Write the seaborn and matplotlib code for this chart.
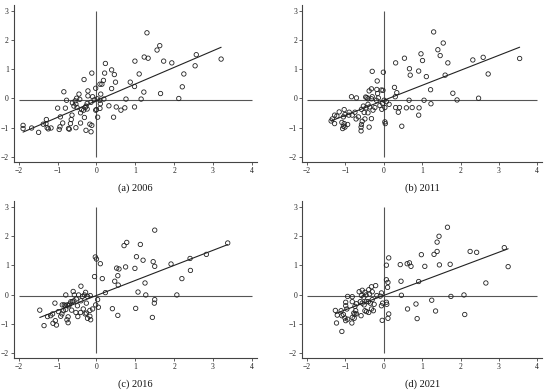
import numpy as np
import pandas as pd
import seaborn as sns
import matplotlib
matplotlib.use('Agg')
import matplotlib.pyplot as plt

# Moran scatter values (x: standardised value, y: spatial lag)
x_2006 = [1.30, 1.63, 1.56, 1.23, 1.33, 1.73, 1.94, 0.99, 2.57, 2.54, 3.21, 2.25, 2.21, 2.12,
          1.65, 1.22, 1.15, 1.10, 0.98, 0.87, 0.98, 0.76, 0.73, 0.63, 0.51, 0.44, 0.32, 0.39,
          0.46, 0.49, 0.39, 0.23, 0.21, 0.18, 0.09, 0.14, 0.11, 0.19, 0.09, 0.10, 0.09, -0.02,
          0.02, 0.00, -0.02, 0.03, -0.12, -0.32, -0.22, -0.22, -0.10, -0.06, -0.14, -0.24,
          -0.27, -0.29, -0.24, -0.33, -0.31, -0.17, -0.12, -0.27, -0.14, -0.45, -0.43, -0.51,
          -0.55, -0.53, -0.58, -0.62, -0.50, -0.38, -0.41, -0.63, -0.65, -0.67, -0.41, -0.53,
          -0.72, -0.70, -0.84, -0.77, -0.80, -1.00, -0.93, -0.87, -0.94, -0.96, -1.17, -1.29,
          -1.30, -1.37, -1.24, -1.27, -1.49, -1.67, -1.89, -1.89]
y_2006 = [2.25, 1.81, 1.66, 1.42, 1.38, 1.28, 1.22, 1.28, 1.50, 1.12, 1.35, 0.84, 0.40, 0.00,
          0.17, 0.22, -0.02, 0.84, 0.41, 0.56, -0.29, -0.02, -0.32, -0.40, -0.29, -0.64, -0.25,
          0.98, 0.82, 0.56, 0.34, 1.20, 0.87, 0.62, 0.49, 0.49, 0.15, -0.02, -0.06, -0.18,
          -0.34, 0.35, -0.01, -0.38, -0.40, -0.64, 0.87, 0.65, 0.26, 0.09, 0.06, -0.05, -0.13,
          -0.17, -0.26, -0.31, -0.36, -0.40, -0.65, -0.88, -0.92, -1.09, -1.14, 0.15, -0.03,
          0.01, -0.08, -0.19, -0.26, -0.15, -0.31, -0.38, -0.49, -0.57, -0.72, -0.86, -0.84,
          -1.00, -1.03, -1.05, 0.23, -0.06, -0.33, -0.33, -0.63, -0.84, -0.97, -1.06, -1.01,
          -0.72, -0.86, -0.88, -1.04, -1.00, -1.16, -1.01, -0.92, -1.03]

x_2011 = [1.30, 1.55, 1.41, 1.47, 0.97, 1.01, 0.54, 0.31, 1.67, 2.32, 2.59, 3.54, 2.72, 1.60,
          1.11, 0.91, 0.67, 0.69, 1.22, 1.80, 1.91, 2.47, 1.05, 1.23, 0.66, 0.92, 0.74, 0.59,
          0.41, 0.31, 0.38, 0.91, 0.47, 0.28, 0.34, 0.30, 0.14, 0.07, 0.01, 0.03, 0.03, 0.04,
          -0.01, -0.02, -0.06, -0.03, -0.05, -0.30, -0.17, -0.32, -0.18, -0.38, -0.16, -0.30,
          -0.32, -0.41, -0.44, -0.47, -0.14, -0.19, -0.10, -0.23, -0.28, -0.37, -0.41, -0.46,
          -0.53, -0.58, -0.51, -0.41, -0.32, -0.49, -0.38, -0.59, -0.59, -0.58, -0.56, -0.66,
          -0.72, -0.75, -0.82, -0.71, -0.84, -0.90, -0.91, -1.03, -1.05, -1.01, -1.09, -1.03,
          -1.05, -1.07, -1.01, -0.94, -1.16, -1.22, -1.28, -1.28, -1.37, -1.34]
y_2011 = [2.28, 1.90, 1.67, 1.47, 1.53, 1.30, 1.38, 1.22, 1.22, 1.32, 1.41, 1.37, 0.84, 0.80,
          0.75, 0.94, 1.02, 0.80, 0.30, 0.18, -0.05, 0.01, -0.06, -0.18, -0.06, -0.32, -0.31,
          -0.32, -0.31, -0.31, -0.47, -0.57, -0.95, 0.38, 0.20, 0.06, -0.20, -0.11, -0.06,
          -0.31, -0.80, -0.86, 0.90, 0.28, 0.29, -0.17, -0.37, 0.93, 0.60, 0.33, 0.31, 0.26,
          0.17, 0.06, -0.01, -0.01, 0.03, 0.05, 0.02, -0.06, -0.24, -0.31, -0.40, -0.29, -0.20,
          -0.32, -0.26, -0.37, -0.48, -0.49, -0.69, -0.70, -0.98, -0.98, -1.11, -0.89, -0.78,
          -0.63, -0.70, -0.47, -0.57, 0.02, 0.06, -0.47, -0.57, -0.38, -0.63, -0.55, -0.82,
          -0.86, -0.95, -1.03, -0.98, -0.89, -0.46, -0.60, -0.57, -0.86, -0.77, -0.70]

x_2016 = [1.50, 0.78, 0.71, 1.13, 3.38, 2.83, 2.41, 1.92, 1.46, 1.50, 1.03, 1.20, 2.42, 2.20,
          0.99, 0.75, 0.52, 0.58, 0.55, 0.47, 0.56, 1.25, 1.07, 1.27, 2.07, 1.50, 1.49, 1.01,
          1.44, 0.55, 0.41, 0.23, 0.15, 0.10, -0.03, 0.00, -0.05, 0.03, -0.02, 0.05, -0.10,
          -0.16, -0.28, -0.23, -0.31, -0.40, -0.36, -0.26, -0.40, -0.34, -0.41, -0.17, -0.26,
          -0.17, -0.15, -0.23, -0.29, -0.46, -0.57, -0.60, -0.52, -0.58, -0.49, -0.53, -0.48,
          -0.62, -0.69, -0.66, -0.71, -0.79, -0.75, -0.80, -0.83, -0.88, -0.85, -0.79, -0.73,
          -0.76, -0.73, -0.89, -0.92, -1.07, -1.06, -1.03, -1.12, -1.13, -1.18, -1.26, -1.35,
          -1.46, -0.98, -0.64]
y_2016 = [2.21, 1.79, 1.68, 1.72, 1.77, 1.38, 1.24, 1.05, 1.13, 0.97, 1.30, 1.18, 0.83, 0.55,
          0.90, 0.95, 0.91, 0.88, 0.65, 0.46, 0.33, 0.40, 0.09, -0.01, -0.01, -0.17, -0.29,
          -0.47, -0.78, -0.71, -0.48, 0.07, 0.55, 1.06, 1.29, 1.22, 0.62, -0.17, -0.35, -0.43,
          -0.49, -0.03, 0.08, -0.06, -0.01, 0.29, -0.06, -0.29, -0.21, -0.49, -0.61, -0.54,
          -0.63, -0.74, -0.86, -0.81, -0.66, -0.01, -0.01, 0.11, -0.15, -0.21, -0.38, -0.61,
          -0.75, -0.24, -0.32, -0.24, -0.38, -0.01, -0.35, -0.38, -0.35, -0.35, -0.55, -0.51,
          -0.76, -0.86, -0.96, -0.66, -0.74, -0.29, -0.89, -1.04, -0.98, -0.66, -0.72, -0.75,
          -1.06, -0.53, -0.58, -0.53]

x_2021 = [1.66, 1.44, 1.39, 1.39, 1.31, 0.98, 2.25, 2.42, 3.14, 3.24, 0.67, 0.61, 0.71, 0.43,
          1.07, 1.45, 1.73, 0.13, 0.07, 0.07, 0.11, 0.10, 0.45, 0.91, 2.66, 0.46, 1.75, 2.09,
          1.25, 0.84, 0.62, 1.35, 0.87, 2.11, 0.13, 0.11, 0.08, 0.07, -0.06, -0.09, -0.06,
          -0.03, -0.04, -0.21, -0.32, -0.30, -0.39, -0.37, -0.18, -0.25, -0.30, -0.35, -0.40,
          -0.32, -0.27, -0.39, -0.49, -0.56, -0.46, -0.58, -0.52, -0.45, -0.56, -0.61, -0.64,
          -0.51, -0.49, -0.59, -0.45, -0.71, -0.75, -0.73, -0.78, -0.82, -0.82, -0.82, -0.83,
          -0.77, -0.75, -0.71, -0.94, -0.99, -0.99, -0.96, -0.94, -0.99, -1.01, -1.05, -1.11,
          -1.09, -1.21, -1.09, -1.23, -1.26]
y_2021 = [2.31, 2.00, 1.80, 1.48, 1.38, 1.37, 1.48, 1.45, 1.61, 0.96, 1.09, 1.06, 0.97, 1.03,
          0.97, 1.02, 1.04, 1.26, 1.01, 0.51, 0.42, 0.25, 0.46, 0.45, 0.40, -0.02, -0.06, -0.01,
          -0.19, -0.32, -0.49, -0.56, -0.82, -0.68, -0.66, -0.81, -0.33, -0.26, 0.06, -0.05,
          -0.38, -0.29, -0.88, 0.31, 0.27, 0.10, 0.17, 0.02, -0.03, -0.33, -0.17, -0.29, -0.24,
          -0.49, -0.55, -0.61, 0.08, 0.15, -0.01, -0.03, -0.09, -0.24, -0.29, -0.24, 0.10,
          -0.35, -0.55, -0.72, -0.58, -0.31, -0.40, -0.55, -0.63, -0.07, -0.24, -0.78, -0.97,
          -0.81, -0.66, -0.66, -0.06, -0.26, -0.38, -0.49, -0.84, -0.89, -0.80, -0.68, -0.55,
          -0.72, -0.70, -1.26, -0.97, -0.54]

panel_labels = ['(a) 2006', '(b) 2011', '(c) 2016', '(d) 2021']
mean_lag = [-0.06, -0.05, -0.04, -0.04]
x_ticks = [-2, -1, 0, 1, 2, 3, 4]
y_ticks = [-2, -1, 0, 1, 2, 3]

panels = [(x_2006, y_2006), (x_2011, y_2011), (x_2016, y_2016), (x_2021, y_2021)]

sns.set_theme(style='ticks')
plt.rcParams['font.family'] = ['Liberation Serif', 'DejaVu Serif']

fig = plt.figure(figsize=(5.5, 3.9), dpi=100)
boxes = [[0.025, 0.585, 0.442, 0.402],
         [0.549, 0.585, 0.437, 0.402],
         [0.025, 0.082, 0.442, 0.402],
         [0.549, 0.082, 0.437, 0.402]]

axis_col = '#444444'

for i, (xs, ys) in enumerate(panels):
    ax = fig.add_axes(boxes[i])
    df = pd.DataFrame({'z': xs, 'wz': ys})

    ax.hlines(mean_lag[i], -2, 4, color='#555555', lw=0.8, zorder=1)
    ax.vlines(0, -2, 3, color='#555555', lw=0.8, zorder=1)

    sns.regplot(x='z', y='wz', data=df, ax=ax, ci=None, truncate=True,
                scatter_kws={'facecolors': 'none', 'edgecolors': '#222222',
                             's': 10, 'linewidths': 0.6, 'alpha': 1, 'zorder': 3},
                line_kws={'color': '#222222', 'lw': 0.8, 'zorder': 2})

    ax.set_xlim(-2.13, 4.13)
    ax.set_ylim(-2.17, 3.2)
    ax.set_xticks(x_ticks)
    ax.set_yticks(y_ticks)
    ax.set_xlabel('')
    ax.set_ylabel('')
    ax.tick_params(labelsize=5.5, length=2, width=0.6, color=axis_col,
                   labelcolor='#222222', pad=1.5)
    for s in ['top', 'right']:
        ax.spines[s].set_visible(False)
    for s in ['left', 'bottom']:
        ax.spines[s].set_color(axis_col)
        ax.spines[s].set_linewidth(0.8)

    ax.text(0.5, -0.135, panel_labels[i], transform=ax.transAxes,
            ha='center', va='top', fontsize=7.5, color='#111111')

fig.savefig('out.png', dpi=100)
